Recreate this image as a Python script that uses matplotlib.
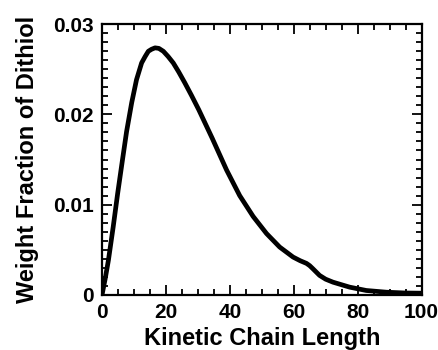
import matplotlib
matplotlib.use("Agg")
import matplotlib.pyplot as plt
from matplotlib.ticker import MultipleLocator, FixedFormatter, FixedLocator

plt.rcParams['font.family'] = ['Liberation Sans', 'DejaVu Sans']

chain_length = [0, 1.0, 2.0, 3.5, 4.9, 6.4, 7.7, 9.3, 10.8, 12.4, 13.5, 14.5, 15.5, 16.6,
                17.8, 19.2, 20.7, 22.3, 24.0, 25.9, 28.0, 30.3, 34.5, 39.0, 43.1, 47.3,
                51.5, 55.6, 59.8, 62.0, 64.0, 65.0, 66.0, 68.1, 70.0, 72.3, 77.5, 82.7,
                89.0, 95.0, 100.0]
weight_fraction = [0, 0.0018, 0.00383, 0.00753, 0.01124, 0.01494, 0.0181, 0.0213, 0.02383,
                   0.02569, 0.0264, 0.02698, 0.0272, 0.02736, 0.0273, 0.02698, 0.0264,
                   0.02569, 0.0247, 0.0235, 0.0221, 0.0205, 0.01735, 0.01383, 0.0110,
                   0.0087, 0.0068, 0.00531, 0.0042, 0.0038, 0.0035, 0.00325, 0.00291,
                   0.00217, 0.00175, 0.00142, 0.00087, 0.0005, 0.00031, 0.00022, 0.0002]

x_ticks = [0, 20, 40, 60, 80, 100]
y_ticks = [0, 0.01, 0.02, 0.03]
y_tick_labels = ['0', '0.01', '0.02', '0.03']

fig = plt.figure(figsize=(4.38, 3.5), dpi=100)
ax = fig.add_axes([102/438, 1-295/350, (421.5-102)/438, (295-24)/350])

ax.plot(chain_length, weight_fraction, color='black', lw=3.4, solid_capstyle='round',
        solid_joinstyle='round')

ax.set_xlim(0, 100)
ax.set_ylim(0, 0.03)
ax.xaxis.set_major_locator(FixedLocator(x_ticks))
ax.xaxis.set_minor_locator(MultipleLocator(5))
ax.yaxis.set_major_locator(FixedLocator(y_ticks))
ax.yaxis.set_major_formatter(FixedFormatter(y_tick_labels))
ax.yaxis.set_minor_locator(MultipleLocator(0.001))

ax.tick_params(which='both', direction='in', top=True, right=True, width=1.3, color='black')
ax.tick_params(which='major', length=7, labelsize=15, pad=6)
ax.tick_params(which='minor', length=4)
for lab in ax.get_xticklabels() + ax.get_yticklabels():
    lab.set_fontweight('bold')
for sp in ax.spines.values():
    sp.set_linewidth(1.6)

ax.set_xlabel('Kinetic Chain Length', fontsize=17, fontweight='bold', labelpad=3)
ax.set_ylabel('Weight Fraction of Dithiol', fontsize=17, fontweight='bold', labelpad=10)

fig.savefig('out.png', dpi=100)
